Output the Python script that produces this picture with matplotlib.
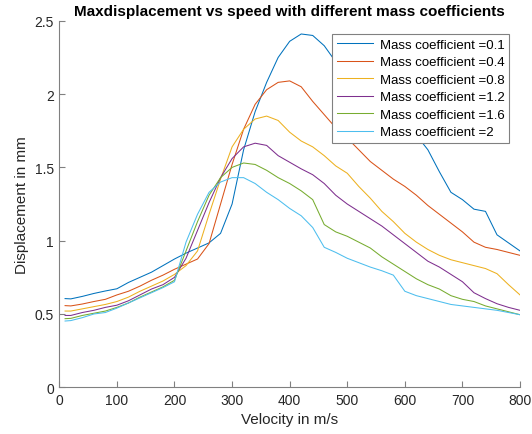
import matplotlib
matplotlib.use("Agg")
import matplotlib.pyplot as plt
import numpy as np

# velocity grid shared by all curves (m/s)
velocity = [10, 20, 40, 60, 80, 100, 120, 140, 160, 180, 200, 220, 240,
            260, 280, 300, 320, 340, 360, 380, 400, 420, 440, 460, 480,
            500, 520, 540, 560, 580, 600, 620, 640, 660, 680, 700, 720,
            740, 760, 780, 800]

# max displacement (mm)
disp_01 = [0.605, 0.603, 0.62, 0.64, 0.657, 0.672, 0.715, 0.75, 0.785,
           0.83, 0.875, 0.915, 0.95, 0.985, 1.05, 1.25, 1.62, 1.88, 2.08,
           2.25, 2.36, 2.41, 2.40, 2.33, 2.22, 2.12, 2.03, 1.95, 1.88,
           1.82, 1.77, 1.72, 1.62, 1.47, 1.33, 1.28, 1.215, 1.20, 1.04,
           0.985, 0.93]
disp_04 = [0.557, 0.555, 0.568, 0.585, 0.60, 0.63, 0.655, 0.69, 0.73,
           0.765, 0.805, 0.84, 0.875, 0.98, 1.25, 1.52, 1.76, 1.93, 2.03,
           2.08, 2.09, 2.05, 1.95, 1.86, 1.77, 1.70, 1.62, 1.54, 1.48,
           1.42, 1.37, 1.31, 1.24, 1.18, 1.12, 1.06, 0.99, 0.955, 0.94,
           0.92, 0.90]
disp_08 = [0.52, 0.52, 0.535, 0.55, 0.565, 0.585, 0.615, 0.655, 0.69,
           0.725, 0.77, 0.83, 0.93, 1.18, 1.42, 1.64, 1.76, 1.83, 1.85,
           1.82, 1.74, 1.68, 1.64, 1.58, 1.51, 1.46, 1.37, 1.29, 1.20,
           1.13, 1.05, 0.99, 0.94, 0.90, 0.87, 0.85, 0.83, 0.81, 0.775,
           0.70, 0.63]
disp_12 = [0.49, 0.49, 0.51, 0.525, 0.545, 0.56, 0.59, 0.63, 0.67, 0.70,
           0.75, 0.88, 1.07, 1.26, 1.43, 1.56, 1.64, 1.665, 1.65, 1.58,
           1.535, 1.49, 1.45, 1.39, 1.31, 1.25, 1.20, 1.15, 1.10, 1.04,
           0.98, 0.92, 0.86, 0.82, 0.77, 0.72, 0.645, 0.605, 0.57, 0.545,
           0.525]
disp_16 = [0.468, 0.47, 0.49, 0.505, 0.52, 0.545, 0.575, 0.615, 0.65,
           0.685, 0.73, 0.93, 1.13, 1.31, 1.43, 1.50, 1.53, 1.52, 1.48,
           1.43, 1.39, 1.34, 1.28, 1.11, 1.06, 1.03, 0.99, 0.95, 0.89,
           0.84, 0.79, 0.74, 0.70, 0.67, 0.625, 0.60, 0.585, 0.555, 0.535,
           0.515, 0.495]
disp_20 = [0.452, 0.455, 0.475, 0.50, 0.51, 0.54, 0.575, 0.61, 0.645,
           0.68, 0.72, 0.99, 1.18, 1.33, 1.40, 1.43, 1.43, 1.39, 1.33,
           1.28, 1.22, 1.17, 1.09, 0.955, 0.92, 0.88, 0.85, 0.82, 0.795,
           0.765, 0.655, 0.625, 0.605, 0.585, 0.565, 0.555, 0.545, 0.535,
           0.525, 0.51, 0.495]

labels = ["Mass coefficient =0.1", "Mass coefficient =0.4",
          "Mass coefficient =0.8", "Mass coefficient =1.2",
          "Mass coefficient =1.6", "Mass coefficient =2"]
series = [disp_01, disp_04, disp_08, disp_12, disp_16, disp_20]
# MATLAB default line colours
colors = ["#0072BD", "#D95319", "#EDB120", "#7E2F8E", "#77AC30", "#4DBEEE"]

plt.rcParams['font.family'] = ['Liberation Sans', 'DejaVu Sans']

fig = plt.figure(figsize=(5.32, 4.35), dpi=100)
ax = fig.add_axes([0.1115, 0.1074, 0.866, 0.8425])

for ys, c, lab in zip(series, colors, labels):
    ax.plot(velocity, ys, '-', color=c, linewidth=0.75, label=lab)

ax.set_xlim(0, 800)
ax.set_ylim(0, 2.5)
ax.set_xticks(np.arange(0, 801, 100))
ax.set_yticks([0, 0.5, 1, 1.5, 2, 2.5])
ax.set_yticklabels(["0", "0.5", "1", "1.5", "2", "2.5"])

# MATLAB look: box off, ticks inside, grey axes
for side in ["top", "right"]:
    ax.spines[side].set_visible(False)
for side in ["left", "bottom"]:
    ax.spines[side].set_color("#808080")
    ax.spines[side].set_linewidth(0.8)
ax.tick_params(direction="in", length=4, width=0.8, color="#808080",
               labelsize=10, labelcolor="#262626", pad=4)

ax.set_xlabel("Velocity in m/s", fontsize=11, color="#262626")
ax.set_ylabel("Displacement in mm", fontsize=11, color="#262626")
ax.set_title("Maxdisplacement vs speed with different mass coefficients",
             fontsize=11, fontweight="bold", pad=4)

leg = ax.legend(loc="upper right", bbox_to_anchor=(0.957, 0.9195),
                bbox_transform=fig.transFigure, fontsize=9.5,
                handlelength=2.75, labelspacing=0.4, borderaxespad=0,
                fancybox=False, framealpha=1, edgecolor="#808080",
                borderpad=0.35, handletextpad=0.5)
leg.get_frame().set_linewidth(0.8)

fig.savefig("out.png", dpi=100)
